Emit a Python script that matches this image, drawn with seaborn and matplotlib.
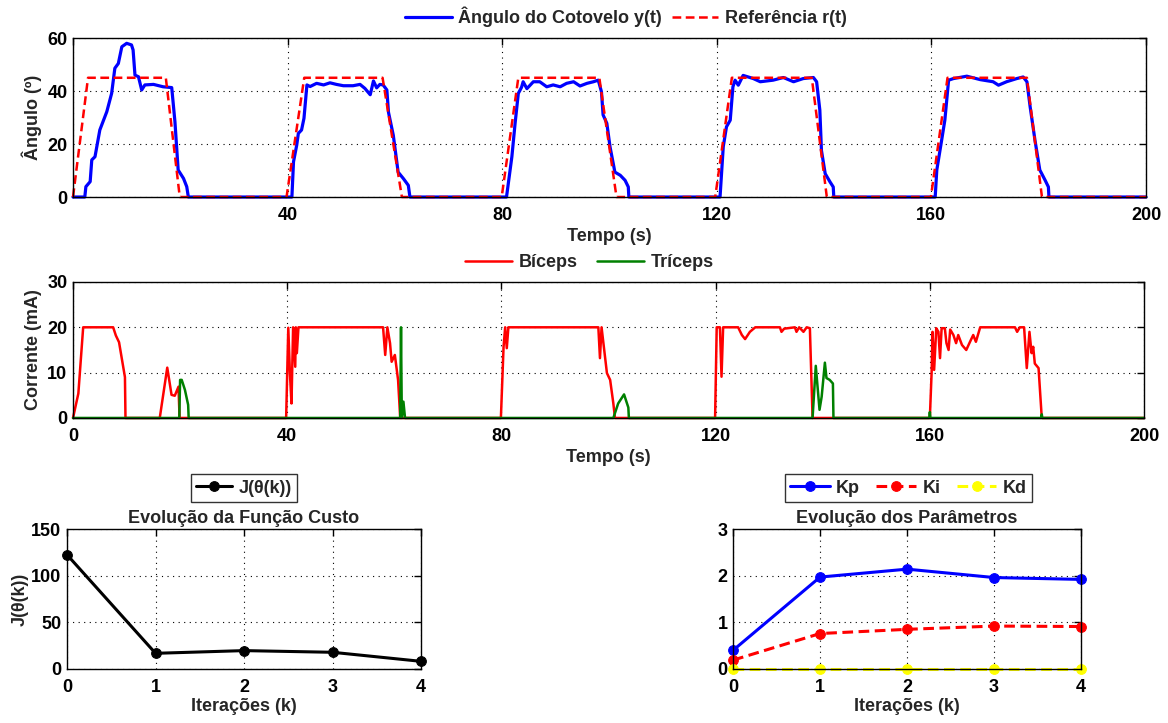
import numpy as np
import pandas as pd
import matplotlib
matplotlib.use('Agg')
import matplotlib.pyplot as plt
import seaborn as sns

# reference r(t) (trapezoids)
ref_t = [0, 2.8, 17.3, 19.9, 39.8, 43.1, 57.7, 61.3, 79.9, 83.0, 98.1, 101.3,
         119.7, 122.8, 137.7, 140.5, 159.9, 163.0, 177.8, 180.6, 200]
ref_v = [0, 45, 45, 0, 0, 45, 45, 0, 0, 45, 45, 0, 0, 45, 45, 0, 0, 45, 45, 0, 0]

# elbow angle y(t)
ang_t = [0, 2.2, 2.4, 3.2, 3.5, 4.1, 5.0, 6.3, 7.2, 7.8, 8.45, 9.1, 10.0, 10.9, 11.2, 11.55,
         12.2, 12.8, 13.4, 15.0, 16.8, 18.4, 19.0, 19.6, 20.6, 21.2, 21.5,
         40.8, 41.1, 41.7, 42.0, 42.6, 43.05, 43.6, 44.2, 45.4, 46.7, 47.9, 49.1, 50.4, 52.2,
         53.5, 54.4, 55.4, 56.0, 56.6, 57.2, 57.8, 58.5, 58.8, 59.7, 60.6, 61.6, 62.5, 62.8,
         80.8, 81.8, 82.4, 83.0, 83.6, 83.9, 84.6, 85.8, 87.0, 88.3, 89.5, 90.8, 92.0, 93.3,
         94.5, 95.8, 97.0, 97.9, 98.5, 98.8, 99.5, 100.1, 101.0, 102.0, 102.9, 103.5, 103.6,
         120.6, 121.2, 121.8, 122.5, 123.0, 123.4, 124.0, 124.9, 126.8, 128.1, 130.5, 132.4,
         134.3, 136.1, 138.0, 138.6, 139.2, 139.5, 140.2, 141.1, 141.7, 141.8,
         160.7, 161.0, 161.9, 162.5, 163.2, 164.1, 166.6, 169.1, 171.5, 172.5, 174.0, 175.9,
         177.1, 177.8, 178.4, 179.3, 180.2, 181.2, 181.8, 181.9, 200]
ang_v = [0, 0, 3.9, 5.8, 14, 15.2, 25.3, 32.2, 39.1, 48.6, 50.4, 56.7, 58, 57.4, 55.5, 46,
         45.4, 40.4, 42.3, 42.5, 41.6, 41.3, 28.4, 10.2, 7, 3.9, 0,
         0, 13.3, 19.6, 24, 25.3, 29.7, 42.3, 41.7, 42.9, 42.3, 43.1, 42.5, 42, 42,
         42.5, 41, 38.6, 43.8, 41.2, 42.5, 42.3, 40.4, 32, 23.3, 9.4, 6.9, 4.4, 0,
         0, 15.2, 27.8, 39.1, 41.4, 43.5, 40.9, 43.5, 43.5, 41.6, 42.3, 41.6, 42.9, 43.5,
         41.9, 42.9, 43.5, 44.1, 39.7, 31, 27.8, 18.9, 9.4, 8.2, 6.3, 3.8, 0,
         0, 19, 26.5, 29, 41.6, 44.1, 42.2, 45.9, 44.7, 43.5, 44.1, 45.1,
         43.5, 44.7, 45.1, 43.5, 32.8, 17.6, 8.8, 5.7, 3.8, 0,
         0, 10.2, 21.4, 29, 44.1, 44.7, 45.6, 44.3, 43.5, 42.2, 43.5, 44.7,
         45.3, 43.5, 34, 21.4, 10.2, 6.3, 3.8, 0, 0]

# stimulation currents
bic_t = [0, 1.0, 1.9, 7.5, 8.0, 8.6, 9.7, 9.8, 16.2, 17.6, 18.4, 19.0, 19.7, 19.9,
         39.8, 40.2, 40.5, 40.8, 41.1, 41.5, 41.6, 41.8, 42.1, 57.9, 58.3, 58.7, 59.2, 59.5,
         60.1, 60.7, 61.1,
         79.9, 80.4, 80.7, 81.0, 81.3, 98.1, 98.4, 98.7, 99.7, 100.3, 100.9, 101.2,
         119.9, 120.2, 120.8, 121.1, 121.4, 124.2, 124.9, 125.5, 126.4, 127.4, 132.0, 132.3,
         132.8, 134.8, 135.1, 135.6, 136.4, 137.0, 137.6, 138.1,
         160.0, 160.35, 160.5, 160.8, 161.2, 161.6, 161.9, 162.2, 162.8, 163.1, 163.5, 163.8,
         164.4, 164.9, 165.3, 166.0, 166.8, 167.5, 168.1, 168.6, 169.4, 175.9, 176.3, 176.8,
         177.6, 178.1, 178.6, 179.0, 179.3, 179.6, 180.3, 180.9, 200]
bic_v = [0, 5.4, 20, 20, 18.2, 16.7, 9, 0, 0, 11.1, 5.1, 4.9, 6.9, 0,
         0, 19.9, 10, 3.2, 20, 11.3, 20, 14.3, 20, 20, 13.9, 20, 16.5, 12.4,
         13.9, 8.4, 0,
         0, 15.7, 20, 15.4, 20, 20, 13.2, 20, 9.9, 8.4, 3.2, 0,
         0, 20, 20, 9.1, 20, 20, 18.3, 17.4, 19, 20, 20, 19,
         19.7, 20, 19, 20, 19, 20, 19.8, 0,
         0, 10.6, 19, 10.6, 19.8, 19, 13.2, 19.8, 19.8, 16.5, 15, 19.5,
         18.3, 16.5, 18.3, 16.1, 15, 16.8, 18.3, 16.8, 20, 20, 19, 20,
         20, 11, 19, 14.3, 15.7, 12, 11, 0, 0]
tri_t = [0, 19.85, 20.0, 20.3, 20.9, 21.5, 21.6, 61.1, 61.25, 61.4, 61.7, 62.0,
         100.9, 101.8, 102.9, 103.7, 103.8, 138.1, 138.7, 139.4, 139.8, 140.4, 140.7,
         141.3, 141.9, 142.0, 159.9, 160.0, 160.1, 180.8, 180.9, 181.0, 200]
tri_v = [0, 0, 8.4, 8.4, 6.2, 2.9, 0, 0, 20, 0, 3.6, 0,
         0, 3.2, 5.2, 2.3, 0, 0, 11.5, 1.8, 4.7, 12.2, 8.8,
         8.4, 7.6, 0, 0, 1.3, 0, 0, 0.8, 0, 0]

# cost function and PID gains per iteration
iters = [0, 1, 2, 3, 4]
J = [122.4, 16.8, 19.7, 17.9, 8.2]
Kp = [0.40, 1.97, 2.14, 1.96, 1.92]
Ki = [0.19, 0.76, 0.85, 0.92, 0.91]
Kd = [0, 0, 0, 0, 0]

FS = 13

sns.set_style('white')
plt.rcParams['font.family'] = ['Liberation Sans', 'DejaVu Sans']
plt.rcParams['font.weight'] = 'bold'
plt.rcParams['axes.labelweight'] = 'bold'
plt.rcParams['axes.titleweight'] = 'bold'
plt.rcParams['font.size'] = FS

fig = plt.figure(figsize=(11.68, 7.23), dpi=100)
ax1 = fig.add_axes([0.0625, 0.7275, 0.9187, 0.2199])
ax2 = fig.add_axes([0.0625, 0.4219, 0.9170, 0.1881])
ax3 = fig.add_axes([0.0574, 0.0747, 0.3031, 0.1936])
ax4 = fig.add_axes([0.6276, 0.0747, 0.2980, 0.1936])


def style(ax):
    ax.grid(True, color='black', linestyle=(0, (1, 4)), linewidth=0.8)
    ax.tick_params(direction='in', top=True, right=True, length=5, width=1,
                   labelsize=FS, colors='black')
    ax.tick_params(axis='x', pad=7)
    ax.tick_params(axis='y', pad=4)
    for s in ax.spines.values():
        s.set_color('black')
        s.set_linewidth(1)
    ax.set_axisbelow(True)


dash = (0, (3.5, 1.8))

# top: angle vs reference
sns.lineplot(x=ang_t, y=ang_v, ax=ax1, color='blue', lw=2.3, estimator=None, sort=False,
             label='Ângulo do Cotovelo y(t)', clip_on=False)
sns.lineplot(x=ref_t, y=ref_v, ax=ax1, color='red', lw=1.8, linestyle=dash, estimator=None,
             sort=False, label='Referência r(t)', clip_on=False)
ax1.set_xlim(0, 200)
ax1.set_ylim(0, 60)
ax1.set_xticks([0, 40, 80, 120, 160, 200])
ax1.set_xticklabels(['', '40', '80', '120', '160', '200'])
ax1.set_yticks([0, 20, 40, 60])
ax1.set_xlabel('Tempo (s)', labelpad=3)
ax1.set_ylabel('Ângulo (º)', labelpad=4)
style(ax1)
ax1.legend(loc='center', bbox_to_anchor=(0.515, 1.132), ncol=2, frameon=False,
           handlelength=2.6, handletextpad=0.35, columnspacing=0.55, fontsize=FS)

# middle: currents
sns.lineplot(x=bic_t, y=bic_v, ax=ax2, color='red', lw=1.8, estimator=None, sort=False,
             label='Bíceps', clip_on=False)
sns.lineplot(x=tri_t, y=tri_v, ax=ax2, color='green', lw=1.8, estimator=None, sort=False,
             label='Tríceps', clip_on=False)
ax2.set_xlim(0, 200)
ax2.set_ylim(0, 30)
ax2.set_xticks([0, 40, 80, 120, 160, 200])
ax2.set_yticks([0, 10, 20, 30])
ax2.set_xlabel('Tempo (s)', labelpad=3)
ax2.set_ylabel('Corrente (mA)', labelpad=4)
style(ax2)
ax2.legend(loc='center', bbox_to_anchor=(0.482, 1.14), ncol=2, frameon=False,
           handlelength=2.6, handletextpad=0.35, columnspacing=1.1, fontsize=FS)

# bottom left: cost
sns.lineplot(x=iters, y=J, ax=ax3, color='black', lw=2.2, marker='o', markersize=7,
             markeredgecolor='black', label='J(θ(k))', clip_on=False)
ax3.set_xlim(0, 4)
ax3.set_ylim(0, 150)
ax3.set_xticks(iters)
ax3.set_yticks([0, 50, 100, 150])
ax3.set_xlabel('Iterações (k)', labelpad=2)
ax3.set_ylabel('J(θ(k))', labelpad=2)
ax3.set_title('Evolução da Função Custo', pad=4, fontsize=FS)
style(ax3)
lg = ax3.legend(loc='center', bbox_to_anchor=(0.5, 1.293), frameon=True, fancybox=False,
                handlelength=2.0, handletextpad=0.35, fontsize=FS, borderpad=0.3)
lg.get_frame().set_edgecolor('black')
lg.get_frame().set_linewidth(1)

# bottom right: gains
sns.lineplot(x=iters, y=Kp, ax=ax4, color='blue', lw=2.2, marker='o', markersize=7,
             markeredgecolor='blue', label='Kp', clip_on=False)
sns.lineplot(x=iters, y=Ki, ax=ax4, color='red', lw=2.2, linestyle=dash, marker='o',
             markersize=7, markeredgecolor='red', label='Ki', clip_on=False)
sns.lineplot(x=iters, y=Kd, ax=ax4, color='yellow', lw=2.2, linestyle=dash, marker='o',
             markersize=7, markeredgecolor='yellow', label='Kd', clip_on=False)
ax4.set_xlim(0, 4)
ax4.set_ylim(0, 3)
ax4.set_xticks(iters)
ax4.set_yticks([0, 1, 2, 3])
ax4.set_xlabel('Iterações (k)', labelpad=2)
ax4.set_ylabel('')
ax4.set_title('Evolução dos Parâmetros', pad=4, fontsize=FS)
style(ax4)
lg = ax4.legend(loc='center', bbox_to_anchor=(0.504, 1.293), ncol=3, frameon=True,
                fancybox=False, handlelength=2.2, handletextpad=0.35, columnspacing=0.9,
                fontsize=FS, borderpad=0.3)
lg.get_frame().set_edgecolor('black')
lg.get_frame().set_linewidth(1)

fig.savefig('out.png', dpi=100, facecolor='white')
